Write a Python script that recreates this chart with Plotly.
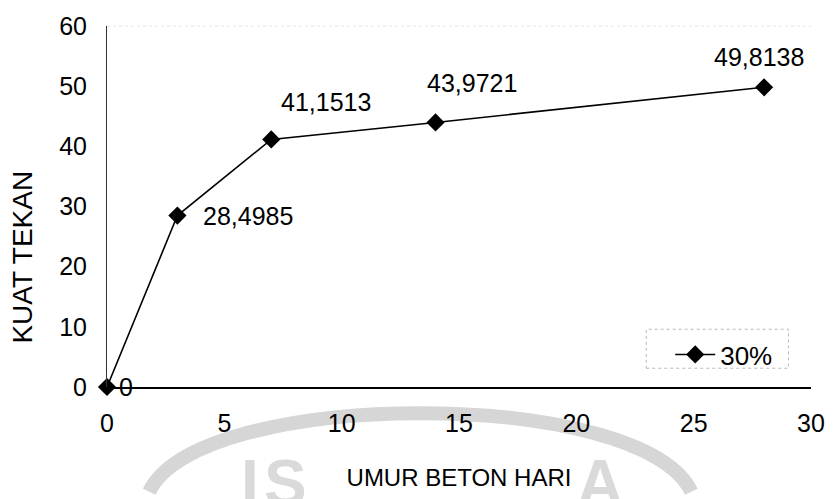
import plotly.graph_objects as go

# Umur beton (hari) vs kuat tekan, campuran 30%
umur_hari = [0, 3, 7, 14, 28]
kuat_tekan = [0, 28.4985, 41.1513, 43.9721, 49.8138]
nama_seri = "30%"

x_ticks = [0, 5, 10, 15, 20, 25, 30]
y_ticks = [0, 10, 20, 30, 40, 50, 60]

judul_x = "UMUR BETON HARI"
judul_y = "KUAT TEKAN"


def fmt(v):
    return "0" if v == 0 else f"{v:.4f}".replace(".", ",")


FONT = "Liberation Sans, Arial, sans-serif"

fig = go.Figure()
fig.add_trace(go.Scatter(
    x=umur_hari, y=kuat_tekan, name=nama_seri,
    mode="lines+markers",
    line=dict(color="#000000", width=1.6),
    marker=dict(symbol="diamond", size=14, color="#000000"),
    cliponaxis=False,
))

# data labels (offset per point)
offsets = [(10, 0, "left"), (24, 0, "left"), (8, 37, "left"),
           (-11, 39, "left"), (-5, 30, "center")]
for xv, yv, (dx, dy, anc) in zip(umur_hari, kuat_tekan, offsets):
    fig.add_annotation(x=xv, y=yv, text=fmt(yv), showarrow=False,
                       xanchor=anc, yanchor="middle", xshift=dx, yshift=dy,
                       font=dict(family=FONT, size=25, color="#000000"))

# vertical axis title, set a little below the middle
fig.add_annotation(x=-0.12, y=0.36, xref="paper", yref="paper",
                   text=judul_y, textangle=-90, showarrow=False,
                   xanchor="center", yanchor="middle",
                   font=dict(family=FONT, size=28, color="#000000"))

# faint background emblem below the axis
fig.add_shape(type="path", xref="paper", yref="paper", layer="below",
              path="M 0.06,-0.29 C 0.13,-0.0 0.76,-0.0 0.83,-0.29",
              line=dict(color="#d6d6d6", width=14))
for ch, px in zip(["I", "S", "A"], [0.203, 0.254, 0.70]):
    fig.add_annotation(x=px, y=-0.16, xref="paper", yref="paper",
                       text="<b>" + ch + "</b>", showarrow=False,
                       xanchor="center", yanchor="top",
                       font=dict(family=FONT, size=64, color="#dadada"))

# very faint dotted top edge of the plot area
fig.add_shape(type="line", xref="paper", yref="paper",
              x0=0, x1=1, y0=1, y1=1,
              line=dict(color="#e4e4e4", width=1, dash="dot"))

# legend frame (dotted)
fig.add_shape(type="rect", xref="paper", yref="paper",
              x0=0.766, x1=0.968, y0=0.052, y1=0.16,
              line=dict(color="#b8b8b8", width=1, dash="dot"))

fig.update_layout(
    width=837, height=499,
    margin=dict(l=107, r=17, t=24, b=107),
    paper_bgcolor="#ffffff", plot_bgcolor="#ffffff",
    font=dict(family=FONT, size=25, color="#000000"),
    showlegend=True,
    legend=dict(x=0.80, y=0.155, xanchor="left", yanchor="top",
                itemwidth=40,
                bgcolor="rgba(0,0,0,0)", borderwidth=0,
                font=dict(family=FONT, size=26, color="#000000")),
    xaxis=dict(range=[0, 30], tickvals=x_ticks, ticks="", showgrid=False,
               zeroline=False, showline=True, linecolor="#000000", linewidth=1.5,
               tickfont=dict(size=25), ticklabelstandoff=13,
               title=dict(text=judul_x, standoff=33,
                          font=dict(size=24))),
    yaxis=dict(range=[0, 60], tickvals=y_ticks, ticks="", showgrid=False,
               zeroline=False, showline=True, linecolor="#333333", linewidth=1,
               tickfont=dict(size=25), ticklabelstandoff=14),
)

fig.write_html("out.html")
